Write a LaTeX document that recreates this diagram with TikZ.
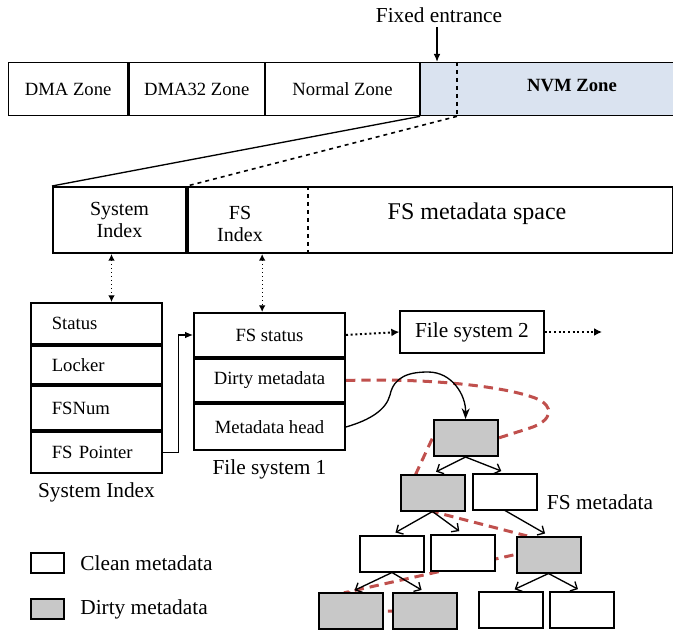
\documentclass[tikz,border=0pt]{standalone}
\usepackage{fontspec}
\setmainfont{Liberation Serif}
\usepackage{xcolor}
\usetikzlibrary{shapes,arrows.meta,positioning,calc,backgrounds}

\definecolor{nvmblue}{HTML}{DAE3F0}
\definecolor{dirtygray}{HTML}{C8C8C8}
\definecolor{dashred}{HTML}{C0504D}

\begin{document}
\begin{tikzpicture}[x=0.75pt, y=-0.75pt, every node/.style={font=\fontsize{14}{16}\selectfont},
    capfont/.style={font=\fontsize{16}{18}\selectfont},
    zone/.style={rectangle, draw, line width=1pt, minimum height=39.75pt, inner sep=0pt},
    cell/.style={rectangle, draw, line width=1.5pt, text width=67pt, inner xsep=15.6pt, inner ysep=0pt, align=left},
    fscell/.style={rectangle, draw, line width=1.5pt, minimum width=113.25pt, inner sep=0pt},
    tbox/.style={rectangle, draw, line width=1.5pt, minimum width=48pt, minimum height=27pt, inner sep=0pt, fill=white},
    dirty/.style={tbox, fill=dirtygray},
    dotarrow/.style={dotted, line width=1.5pt, -{Latex[length=6pt, width=6pt]}},
    treearrow/.style={line width=1pt, -{Straight Barb[length=4pt, width=8pt]}, shorten >=3pt}]
				\useasboundingbox (0,0) rectangle (673,630);
				
				% zones
				\node[zone, anchor=north west, minimum width=89.25pt] (dma) at (8,62) {DMA Zone};
				\node[zone, right=0pt of dma, minimum width=101.5pt] (dma32) {DMA32 Zone};
				\node[zone, right=0pt of dma32, minimum width=115.25pt] (normal) {Normal Zone};
				\node[zone, right=0pt of normal, minimum width=195pt, fill=nvmblue] (nvm) {};
				\node[font=\fontsize{14}{16}\selectfont\bfseries] (nvmtxt) at (572,86) {NVM Zone};
				\draw[dashed, line width=1pt] ($(nvm.north west)+(37,0)$) -- ($(nvm.south west)+(37,0)$);
				\node[capfont] (fixed) at (439,15) {Fixed entrance};
				\draw[line width=1pt, -{Latex[length=6pt, width=5pt]}] ([xshift=-1.5pt]fixed.south) -- ([xshift=-1.5pt]fixed.south |- nvm.north);
				
				% NVM layout
				\node[rectangle, draw, line width=1.5pt, anchor=north west, minimum width=99.75pt, minimum height=49.5pt, align=center, font=\fontsize{15}{17}\selectfont] (sysidx) at (52,186) {System\\Index};
				\node[rectangle, draw, line width=1.5pt, right=0pt of sysidx, minimum width=363.75pt, minimum height=49.5pt] (fsarea) {};
				\node[align=center, font=\fontsize{15}{17}\selectfont] (fsidx) at (240,224) {FS\\Index};
				\node[font=\fontsize{18}{20}\selectfont] (mdspace) at (477,214) {FS metadata space};
				\draw[dashed, line width=1pt] ($(fsarea.north west)+(121,0)$) -- ($(fsarea.south west)+(121,0)$);
				\draw[line width=1pt] (nvm.south west) -- (sysidx.north west);
				\draw[dashed, line width=1.2pt] ($(nvm.south west)+(37,0)$) -- (fsarea.north west);
				\draw[line width=1pt] (nvm.south east) -- (fsarea.north east);
				
				% system index
				\node[cell, anchor=north west, minimum height=30.75pt] (st) at (30,302) {Status};
				\node[cell, below=0pt of st, minimum height=28.5pt] (lock) {Locker};
				\node[cell, below=0pt of lock, minimum height=33pt] (fsnum) {FSNum};
				\node[cell, below=0pt of fsnum, minimum height=30.75pt] (fsptr) {FS Pointer};
				\node[capfont, below=3pt of fsptr] (sicap) {System Index};
				
				% file system 1
				\node[fscell, anchor=north west, minimum height=33pt] (fss) at (193,312) {FS status};
				\node[fscell, below=0pt of fss, minimum height=32.25pt] (dm) {Dirty metadata};
				\node[fscell, below=0pt of dm, minimum height=34.5pt] (mh) {Metadata head};
				\node[capfont, below=3pt of mh] (fs1cap) {File system 1};
				\node[rectangle, draw, line width=1pt, minimum width=108pt, minimum height=31.5pt, capfont] (fs2) at (472,332) {File system 2};
				\coordinate (fsnext) at (602,332);
				
				\draw[dotted, line width=1pt, {Latex[length=5pt, width=5pt]}-{Latex[length=5pt, width=5pt]}] ([xshift=-6pt]sysidx.south) -- ([xshift=-6pt]sysidx.south |- st.north);
				\draw[dotted, line width=1pt, {Latex[length=5pt, width=5pt]}-{Latex[length=5pt, width=5pt]}] ([xshift=-5.5pt]fss.north |- fsarea.south) -- ([xshift=-5.5pt]fss.north);
				\draw[line width=0.8pt, -{Latex[length=6pt, width=5pt]}] (fsptr.east) -- ++(16,0) |- (fss.west);
				\draw[dotarrow] (fss.east) -- (fs2.west);
				\draw[dotarrow] (fs2.east) -- (fsnext);
				
				% metadata tree
				\node[dirty] (root) at (465.5,438) {};
				\node[dirty] (l2d) at (432.5,492.5) {};
				\node[tbox] (l2c) at (505,491.5) {};
				\node[tbox] (l3a) at (392,553.5) {};
				\node[tbox] (l3b) at (462.5,552.5) {};
				\node[dirty] (l3d) at (548.5,554.5) {};
				\node[dirty] (l4a) at (351,611) {};
				\node[dirty] (l4b) at (425,611) {};
				\node[tbox] (l4c) at (511,610) {};
				\node[tbox] (l4d) at (581.5,610) {};
				\node[capfont] (fsmd) at (600,502) {FS metadata};
				
				\draw[treearrow] (root.south) -- (l2d.north);
				\draw[treearrow] (root.south) -- (l2c.north);
				\draw[treearrow] (l2d.south) -- (l3a.north);
				\draw[treearrow] (l2d.south) -- (l3b.north);
				\draw[treearrow] (l2c.south) -- (l3d.north);
				\draw[treearrow] (l3a.south) -- (l4a.north);
				\draw[treearrow] (l3a.south) -- (l4b.north);
				\draw[treearrow] (l3d.south) -- (l4c.north);
				\draw[treearrow] (l3d.south) -- (l4d.north);
				
				\draw[line width=1pt, -{Stealth[length=8pt, width=6pt]}] (mh.east) .. controls (370,420) and (386,410) .. (390,395) .. controls (394,376) and (410,372) .. (428,372) .. controls (452,372) and (466,395) .. (root.north);
				
				\begin{pgfonlayer}{background}
				\draw[dashred, line width=2.25pt, dash pattern=on 7pt off 4.5pt] (dm.east) .. controls (420,378) and (500,385) .. (535,398) .. controls (556,406) and (552,421) .. (530,428) .. controls (515,433) .. (root.east) -- (root.west) -- ($(l2d.north west)!0.25!(l2d.north east)$) -- (l2d.south) -- ($(l3d.north west)!0.15!(l3d.north east)$) -- (l3d.west) -- ($(l4a.north west)!0.45!(l4a.north east)$) -- (l4a.east) -- (l4b.west);
				\end{pgfonlayer}
				
				% legend
				\node[tbox, anchor=west, minimum width=24.75pt, minimum height=15pt] (lclean) at (30,563) {};
				\node[capfont, right=8pt of lclean] (lcleantxt) {Clean metadata};
				\node[dirty, anchor=west, minimum width=24.75pt, minimum height=15pt] (ldirty) at (30,609) {};
				\node[capfont, right=8pt of ldirty] (ldirtytxt) {Dirty metadata};
			\end{tikzpicture}
\end{document}
